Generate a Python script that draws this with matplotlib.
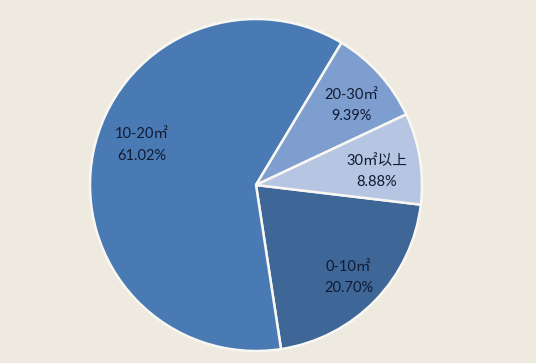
import matplotlib
matplotlib.use("Agg")
import matplotlib.pyplot as plt
import numpy as np

plt.rcParams['font.family'] = ['Lato', 'Noto Sans CJK SC', 'DejaVu Sans']

categories = ['0-10㎡', '10-20㎡', '20-30㎡', '30㎡以上']
values = [20.70, 61.02, 9.39, 8.88]
colors = ['#3E6697', '#4A7AB4', '#7E9ECF', '#B5C5E2']
# label placement (angle in degrees, radius fraction) mimicking Excel best-fit
label_angle = [-45, 160.7, 39.8, 6.2]
label_radius = [0.79, 0.73, 0.75, 0.73]

bg = '#EEEAE0'
fig = plt.figure(figsize=(5.36, 3.63), dpi=100, facecolor=bg)
ax = fig.add_axes([90/536, 12/363, 332/536, 332/363])
ax.set_facecolor(bg)

wedges, _ = ax.pie(values, colors=colors, startangle=-6.8, counterclock=False,
                   wedgeprops=dict(edgecolor='#F8F7F2', linewidth=1.8))
ax.set_xlim(-1, 1)
ax.set_ylim(-1, 1)
ax.set_aspect('equal')
ax.axis('off')

for cat, v, a, r in zip(categories, values, label_angle, label_radius):
    x = r * np.cos(np.radians(a))
    y = r * np.sin(np.radians(a))
    ax.text(x, y, f"{cat}\n{v:.2f}%", ha='center', va='center',
            fontsize=10.5, color='#111B33', linespacing=1.65)

fig.savefig('out.png', dpi=100, facecolor=bg)
